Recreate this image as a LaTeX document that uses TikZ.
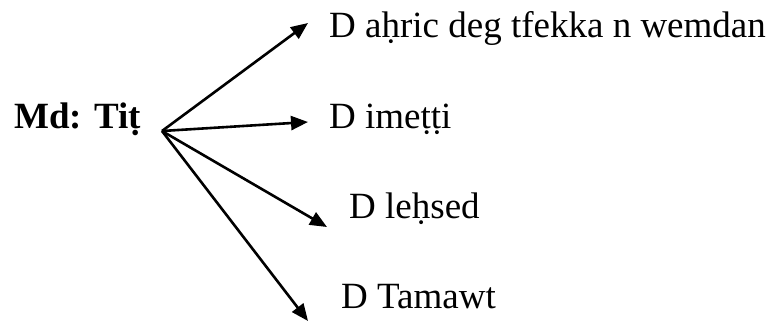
\documentclass[tikz,border=0pt]{standalone}
\usepackage{fontspec}
\setmainfont{Liberation Serif}
\usetikzlibrary{arrows.meta}
\begin{document}
\begin{tikzpicture}[x=1pt,y=-1pt,
  lbl/.style={anchor=base west,inner sep=0pt,font=\fontsize{37}{44}\selectfont},
  branch/.style={line width=2.6pt,-{Triangle[length=17pt,width=14pt]}}]
\useasboundingbox (0,0) rectangle (773,322);
% source label and the point the branches fan out from
\node[lbl,font=\fontsize{37}{44}\selectfont\bfseries] (root) at (14,128) {Md: Tiṭ};
\coordinate (hub) at (162,131);
% branch labels
\node[lbl] (b1) at (329,37) {D aḥric deg tfekka n wemdan};
\node[lbl] (b2) at (329,128) {D imeṭṭi};
\node[lbl] (b3) at (349,218) {D leḥsed};
\node[lbl] (b4) at (341,308) {D Tamawt};
% arrow tips
\coordinate (e1) at (308,23);
\coordinate (e2) at (308,122);
\coordinate (e3) at (327,227);
\coordinate (e4) at (308,321);
\draw[branch] (hub) -- (e1);
\draw[branch] (hub) -- (e2);
\draw[branch] (hub) -- (e3);
\draw[branch] (hub) -- (e4);
\end{tikzpicture}
\end{document}
